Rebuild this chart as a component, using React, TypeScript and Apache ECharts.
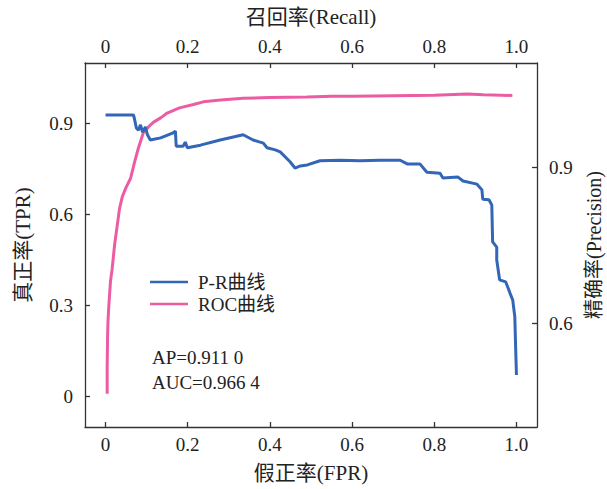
import React, { useEffect, useRef } from "react";
import * as echarts from "echarts";

const xTickValues = [0, 0.2, 0.4, 0.6, 0.8, 1.0];
const leftTickValues = [0, 0.3, 0.6, 0.9];
const rightTickValues = [0.6, 0.9];

const fprValues = [
  0.004, 0.004, 0.005, 0.006, 0.008, 0.012, 0.016, 0.022, 0.03, 0.034, 0.041,
  0.05, 0.061, 0.07, 0.08, 0.092, 0.105, 0.117, 0.135, 0.15, 0.18, 0.214,
  0.238, 0.28, 0.335, 0.4, 0.49, 0.55, 0.6, 0.7, 0.8, 0.88, 0.92, 0.99,
];
const tprValues = [
  0.01, 0.1, 0.2, 0.25, 0.3, 0.38, 0.42, 0.5, 0.58, 0.62, 0.66,
  0.69, 0.72, 0.77, 0.82, 0.87, 0.89, 0.905, 0.92, 0.935, 0.952, 0.963,
  0.972, 0.978, 0.984, 0.986, 0.988, 0.99, 0.99, 0.992, 0.994, 0.998, 0.995, 0.993,
];

const recallValues = [
  0, 0.068, 0.07, 0.075, 0.08, 0.085, 0.09, 0.097, 0.102, 0.109, 0.134, 0.163,
  0.17, 0.172, 0.189, 0.194, 0.199, 0.231, 0.279, 0.335, 0.359, 0.384, 0.393,
  0.413, 0.425, 0.449, 0.461, 0.474, 0.491, 0.522, 0.571, 0.619, 0.668, 0.717,
  0.734, 0.765, 0.782, 0.814, 0.821, 0.857, 0.87, 0.904, 0.916, 0.918, 0.933,
  0.94, 0.942, 0.952, 0.952, 0.959, 0.974, 0.984, 0.991, 0.996, 0.998, 1.0,
];
const precisionValues = [
  1.0, 1.0, 0.994, 0.975, 0.971, 0.981, 0.967, 0.977, 0.962, 0.952, 0.956, 0.965,
  0.969, 0.94, 0.94, 0.948, 0.937, 0.942, 0.952, 0.962, 0.952, 0.946, 0.937,
  0.933, 0.929, 0.91, 0.898, 0.902, 0.904, 0.912, 0.913, 0.912, 0.913, 0.913,
  0.906, 0.906, 0.89, 0.888, 0.879, 0.881, 0.873, 0.867, 0.856, 0.838, 0.837,
  0.827, 0.756, 0.746, 0.721, 0.683, 0.679, 0.658, 0.644, 0.612, 0.554, 0.5,
];

const seriesNames = ["P-R曲线", "ROC曲线"];
const annotations = ["AP=0.911 0", "AUC=0.966 4"];

const FONT = "'Liberation Serif', 'Noto Sans CJK SC', serif";
const BLUE = "#3366B6";
const PINK = "#EC5CA2";
const AXIS = "#333333";

const fmt = (v: number) => (v === 0 ? "0" : v.toFixed(1));

export default function App() {
  const ref = useRef<HTMLDivElement>(null);
  useEffect(() => {
    if (!ref.current) return;
    const chart = echarts.init(ref.current, undefined, { renderer: "svg" });
    const axisCommon = (ticks: number[], margin: number) => ({
      type: "value" as const,
      axisLine: { show: true, onZero: false, lineStyle: { color: AXIS, width: 1.3 } },
      axisTick: { show: true, inside: true, length: 5, customValues: ticks, lineStyle: { color: AXIS, width: 1.3 } },
      axisLabel: {
        show: true,
        customValues: ticks,
        formatter: fmt,
        fontFamily: FONT,
        fontSize: 19,
        color: "#222",
        margin,
      },
      splitLine: { show: false },
      nameTextStyle: { fontFamily: FONT, fontSize: 21, color: "#222" },
      nameLocation: "middle" as const,
    });
    const roc = fprValues.map((x, i) => [x, tprValues[i]]);
    const pr = recallValues.map((x, i) => [x, precisionValues[i]]);
    chart.setOption({
      animation: false,
      backgroundColor: "#fff",
      grid: { left: 85, right: 70, top: 63, bottom: 62, containLabel: false, outerBoundsMode: "none" },
      xAxis: [
        {
          ...axisCommon(xTickValues, 8),
          position: "bottom",
          min: -0.05,
          max: 1.05,
          name: "假正率(FPR)",
          nameGap: 35,
        },
        {
          ...axisCommon(xTickValues, 7),
          position: "top",
          min: -0.05,
          max: 1.05,
          name: "召回率(Recall)",
          nameGap: 36,
        },
      ],
      yAxis: [
        {
          ...axisCommon(leftTickValues, 12),
          position: "left",
          min: -0.1,
          max: 1.1,
          name: "真正率(TPR)",
          nameGap: 52,
          nameRotate: 90,
        },
        {
          ...axisCommon(rightTickValues, 12),
          position: "right",
          min: 0.4,
          max: 1.1,
          name: "精确率(Precision)",
          nameGap: 46,
          nameRotate: 90,
          nameTextStyle: { fontFamily: FONT, fontSize: 20, color: "#222" },
        },
      ],
      legend: {
        data: seriesNames,
        orient: "vertical",
        left: 145,
        top: 266,
        icon: "rect",
        itemWidth: 38,
        itemHeight: 2.5,
        itemGap: 0,
        textStyle: { fontFamily: FONT, fontSize: 19, color: "#222", lineHeight: 22, padding: [0, 0, 0, 5] },
      },
      graphic: annotations.map((t, i) => ({
        type: "text",
        left: 152,
        top: 348 + i * 25,
        style: { text: t, font: `19px ${FONT}`, fill: "#222" },
      })),
      series: [
        {
          name: seriesNames[1],
          type: "line",
          xAxisIndex: 0,
          yAxisIndex: 0,
          data: roc,
          symbol: "none",
          lineStyle: { color: PINK, width: 3 },
          itemStyle: { color: PINK },
        },
        {
          name: seriesNames[0],
          type: "line",
          xAxisIndex: 1,
          yAxisIndex: 1,
          data: pr,
          symbol: "none",
          lineStyle: { color: BLUE, width: 3 },
          itemStyle: { color: BLUE },
        },
      ],
    });
    return () => chart.dispose();
  }, []);
  return <div ref={ref} style={{ width: 607, height: 489, position: "absolute", left: 0, top: 0 }} />;
}
